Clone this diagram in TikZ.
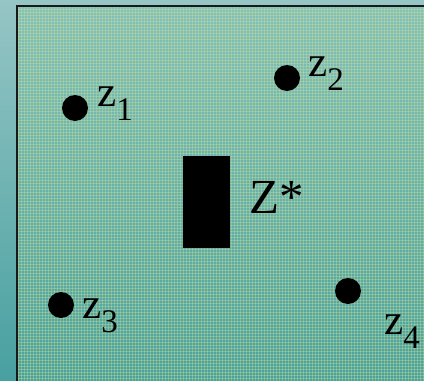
\documentclass[tikz,border=0pt]{standalone}
\usepackage{fontspec}
\setmainfont{Liberation Serif}
\usetikzlibrary{positioning, patterns}
\definecolor{OutTop}{RGB}{150,197,197}
\definecolor{OutBot}{RGB}{72,160,160}
\definecolor{InTop}{RGB}{130,192,188}
\definecolor{InBot}{RGB}{70,160,158}
\definecolor{Tex}{RGB}{215,228,140}
\definecolor{DG}{RGB}{25,25,25}

\newcommand{\zname}[1]{{\fontsize{43}{43}\selectfont z}\raisebox{-14pt}{\fontsize{33}{33}\selectfont #1}}

\tikzset{
  pt/.style={circle, fill=black, minimum size=26pt, inner sep=0pt},
  lab/.style={anchor=base west, inner sep=0pt, text=black}
}

\begin{document}
\begin{tikzpicture}[x=1pt, y=-1pt]
\useasboundingbox (0,0) rectangle (424,381);
\clip (0,0) rectangle (424,381);
% Backdrop and frame
\shade[top color=OutTop, bottom color=OutBot] (0,0) rectangle (424,381);
\shade[top color=InTop, bottom color=InBot] (17,6) rectangle (440,400);
\fill[pattern=grid, pattern color=Tex, opacity=0.35] (17,6) rectangle (440,400);
\draw[DG, line width=2pt] (17,6) rectangle (440,400);

% Points
\node[pt] (p1) at (75,108) {};
\node[pt] (p2) at (287,78) {};
\node[pt] (p3) at (61,305) {};
\node[pt] (p4) at (348,291) {};

% Centre block
\node[fill=black, minimum width=47pt, minimum height=92pt, inner sep=0pt] (zs) at (206.5,202) {};

% Labels
\node[lab] (l1) at (97,106) {\zname{1}};
\node[lab] (l2) at (308,76) {\zname{2}};
\node[lab] (l3) at (82,318) {\zname{3}};
\node[lab] (l4) at (384,334) {\zname{4}};
\node[lab] (ls) at (249,213) {\fontsize{49}{49}\selectfont Z*};
\end{tikzpicture}
\end{document}
